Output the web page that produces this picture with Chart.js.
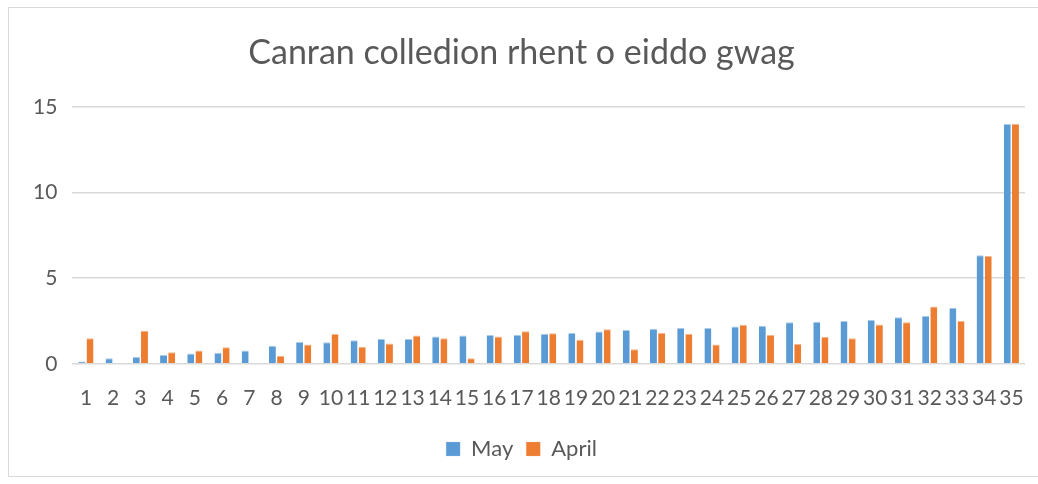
<!DOCTYPE html>
<html>
<head>
<meta charset="utf-8">
<script src="https://cdn.jsdelivr.net/npm/chart.js@4/dist/chart.umd.min.js"></script>
<style>
  html, body { margin: 0; padding: 0; background: #fff; }
  #marco {
    position: absolute; left: 8px; top: 7px; width: 1040px; height: 470px;
    border: 1px solid #D9D9D9; box-sizing: border-box;
  }
  #caja { position: absolute; left: 0; top: 0; width: 1038px; height: 484px; }
</style>
</head>
<body>
<div id="marco"></div>
<div id="caja"><canvas id="grafico"></canvas></div>
<script>
const categorias = Array.from({ length: 35 }, (_, i) => String(i + 1))

const valores_may = [
  0.13, 0.33, 0.39, 0.52, 0.60, 0.64, 0.77, 1.05, 1.27, 1.26,
  1.37, 1.45, 1.45, 1.60, 1.65, 1.68, 1.70, 1.76, 1.80, 1.88,
  1.97, 2.05, 2.09, 2.09, 2.17, 2.22, 2.42, 2.46, 2.50, 2.56,
  2.71, 2.79, 3.27, 6.33, 14.0
]

const valores_april = [
  1.49, 0, 1.93, 0.68, 0.77, 0.97, 0.05, 0.45, 1.12, 1.74,
  0.99, 1.18, 1.65, 1.49, 0.33, 1.60, 1.90, 1.78, 1.41, 2.01,
  0.85, 1.80, 1.76, 1.12, 2.28, 1.68, 1.16, 1.57, 1.49, 2.30,
  2.42, 3.35, 2.50, 6.29, 14.0
]

const ticks_y = [0, 5, 10, 15]

const gris = '#595959'
const fuente = 'Lato, "Open Sans", sans-serif'

new Chart(document.getElementById('grafico'), {
  type: 'bar',
  data: {
    labels: categorias,
    datasets: [
      {
        label: 'May',
        data: valores_may,
        backgroundColor: '#5B9BD5',
        borderColor: '#A9CBEA',
        borderWidth: { top: 1, left: 0, right: 0, bottom: 0 },
        categoryPercentage: 0.6,
        barPercentage: 0.85
      },
      {
        label: 'April',
        data: valores_april,
        backgroundColor: '#ED7D31',
        borderColor: '#F5B48A',
        borderWidth: { top: 1, left: 0, right: 0, bottom: 0 },
        categoryPercentage: 0.6,
        barPercentage: 0.85
      }
    ]
  },
  options: {
    responsive: true,
    maintainAspectRatio: false,
    animation: false,
    layout: { padding: { left: 18, right: 13, top: 22, bottom: 14 } },
    plugins: {
      title: {
        display: true,
        text: 'Canran colledion rhent o eiddo gwag',
        color: gris,
        font: { family: fuente, size: 34, weight: 'normal' },
        padding: { top: 11, bottom: 33 }
      },
      legend: {
        position: 'bottom',
        labels: {
          color: gris,
          font: { family: fuente, size: 22 },
          boxWidth: 14,
          boxHeight: 14,
          padding: 13
        }
      },
      tooltip: { enabled: false }
    },
    scales: {
      x: {
        grid: { display: false },
        border: { display: false },
        ticks: {
          color: gris,
          font: { family: fuente, size: 21 },
          maxRotation: 0,
          autoSkip: false,
          padding: 14
        }
      },
      y: {
        min: 0,
        max: 15,
        afterBuildTicks: eje => { eje.ticks = ticks_y.map(v => ({ value: v })) },
        grid: { color: '#D9D9D9', lineWidth: 1.5, drawTicks: false },
        border: { display: false },
        ticks: {
          color: gris,
          font: { family: fuente, size: 21 },
          padding: 15
        }
      }
    }
  }
})
</script>
</body>
</html>
